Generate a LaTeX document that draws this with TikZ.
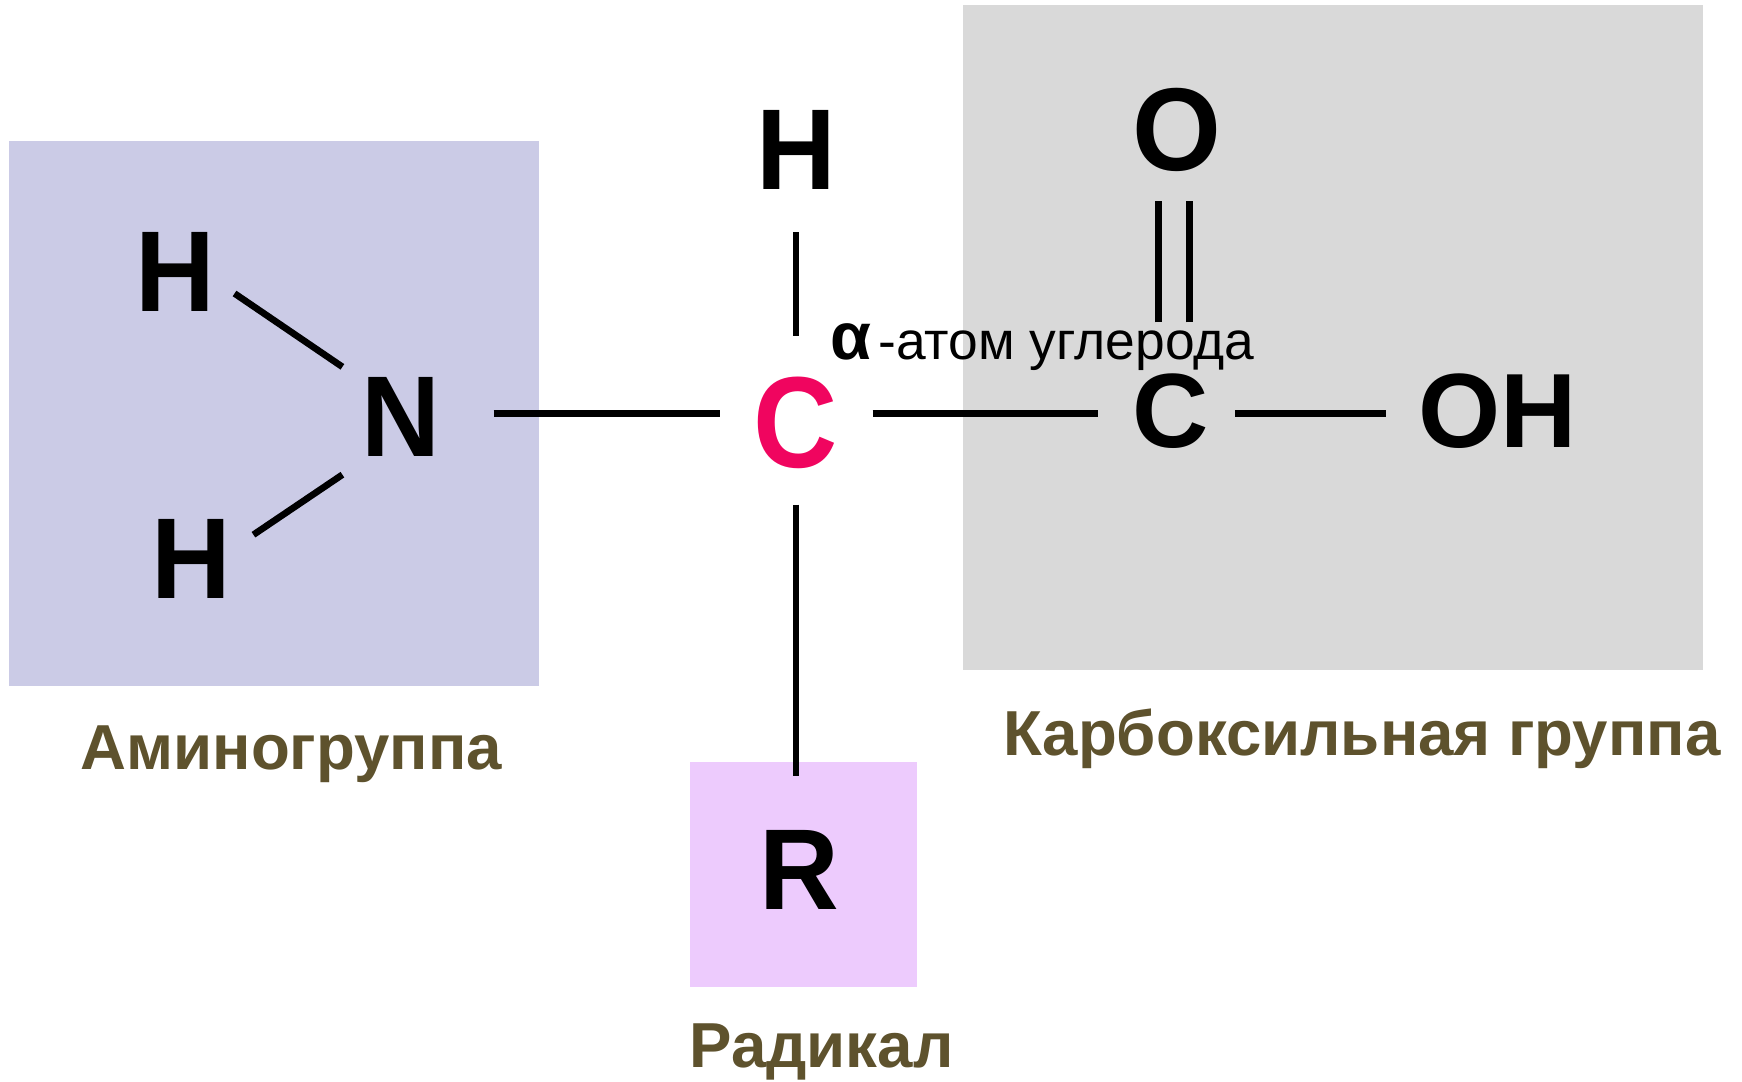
\documentclass[tikz,border=0pt]{standalone}
\usepackage{fontspec}
\setmainfont{Liberation Sans}
\definecolor{aminobg}{RGB}{203,203,230}
\definecolor{carbbg}{RGB}{217,217,217}
\definecolor{radbg}{RGB}{237,203,253}
\definecolor{labelcol}{RGB}{94,82,45}
\definecolor{alphacol}{RGB}{240,5,95}
\begin{document}
\begin{tikzpicture}[x=0.5pt,y=-0.5pt,
  atom/.style={inner sep=0pt,font=\bfseries\fontsize{51.7pt}{60pt}\selectfont},
  bond/.style={line width=3pt},
  grouplabel/.style={inner sep=0pt,anchor=base,text=labelcol,font=\bfseries\fontsize{28.6pt}{34pt}\selectfont}]
\useasboundingbox (0,0) rectangle (1567,972.5);
% group backgrounds
\fill[aminobg] (8,127) rectangle (485,617);
\fill[carbbg] (866,4.5) rectangle (1532,603);
\fill[radbg] (621,685) rectangle (825,888);
% atoms
\node[atom] (H1) at (158,245) {\scalebox{0.96}[1]{H}};
\node[atom] (N) at (361,375) {\scalebox{0.95}[1]{N}};
\node[atom] (H2) at (172,503) {\scalebox{0.96}[1]{H}};
\node[atom,text=alphacol,font=\bfseries\fontsize{58.3pt}{66pt}\selectfont] (Ca) at (716,380) {\scalebox{0.9}[1]{C}};
\node[atom] (Ht) at (716,135) {\scalebox{0.96}[1]{H}};
\node[atom] (R) at (719,783) {\scalebox{0.96}[1]{R}};
\node[atom,font=\bfseries\fontsize{47.5pt}{56pt}\selectfont] (Cb) at (1053,370) {C};
\node[atom,font=\bfseries\fontsize{47.5pt}{56pt}\selectfont] (OH) at (1347,370) {OH};
\node[atom,font=\bfseries\fontsize{53pt}{62pt}\selectfont] (O) at (1059,117) {\scalebox{0.97}[1]{O}};
% bonds
\draw[bond] ([shift={(53,19)}]H1.center) -- ([shift={(-53,-45)}]N.center);
\draw[bond] ([shift={(56,-22)}]H2.center) -- ([shift={(-53,52)}]N.center);
\draw[bond] ([shift={(83,-3)}]N.center) -- ([shift={(-68,-8)}]Ca.center);
\draw[bond] ([shift={(0,-78)}]Ca.center) -- ([shift={(0,74)}]Ht.center);
\draw[bond] ([shift={(0,74)}]Ca.center) -- ([shift={(-3,-85)}]R.center);
\draw[bond] ([shift={(69,-8)}]Ca.center) -- ([shift={(-65,2)}]Cb.center);
\draw[bond] ([shift={(58,2)}]Cb.center) -- ([shift={(-100,2)}]OH.center);
\draw[bond] ([shift={(-11,-80)}]Cb.center) -- ([shift={(-17,64)}]O.center);
\draw[bond] ([shift={(17,-80)}]Cb.center) -- ([shift={(11,64)}]O.center);
% texts
\node[anchor=base west,inner sep=0pt,font=\fontsize{24pt}{30pt}\selectfont] (alpha) at (747,323) {{\bfseries\fontsize{30pt}{30pt}\selectfont α}\kern3pt-атом углерода};
\node[grouplabel] (amino) at (262,692) {Аминогруппа};
\node[grouplabel] (carb) at (1225,680) {Карбоксильная группа};
\node[grouplabel] (rad) at (739,960) {Радикал};
\end{tikzpicture}
\end{document}
